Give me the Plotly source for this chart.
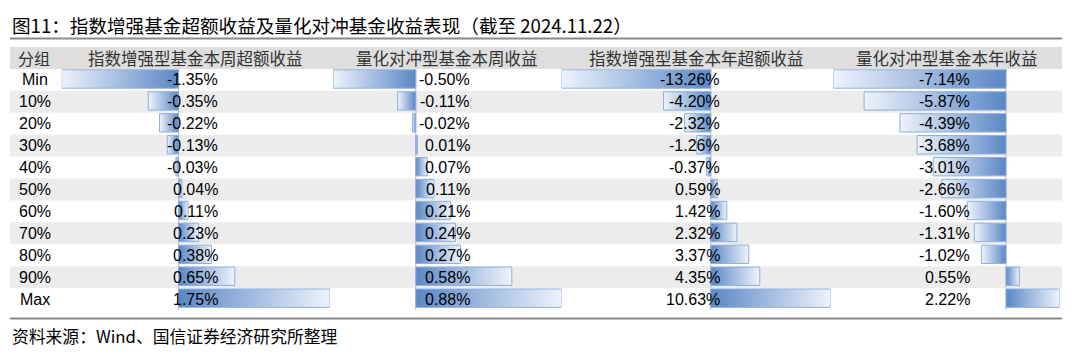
import plotly.graph_objects as go

# ---------------- data ----------------
groups = ["Min", "10%", "20%", "30%", "40%", "50%", "60%", "70%", "80%", "90%", "Max"]
headers = ["指数增强型基金本周超额收益", "量化对冲型基金本周收益",
           "指数增强型基金本年超额收益", "量化对冲型基金本年收益"]
enh_week = [-1.35, -0.35, -0.22, -0.13, -0.03, 0.04, 0.11, 0.23, 0.38, 0.65, 1.75]
hedge_week = [-0.50, -0.11, -0.02, 0.01, 0.07, 0.11, 0.21, 0.24, 0.27, 0.58, 0.88]
enh_year = [-13.26, -4.20, -2.32, -1.26, -0.37, 0.59, 1.42, 2.32, 3.37, 4.35, 10.63]
hedge_year = [-7.14, -5.87, -4.39, -3.68, -3.01, -2.66, -1.60, -1.31, -1.02, 0.55, 2.22]
series = [enh_week, hedge_week, enh_year, hedge_year]

title = "图11：指数增强基金超额收益及量化对冲基金收益表现（截至 2024.11.22）"
source = "资料来源：Wind、国信证券经济研究所整理"

# ---------------- layout constants ----------------
OFF = 8                     # page body margin offset
W, H = 1080 - OFF, 356 - OFF
col_px = [(61.7, 330.0), (333.0, 561.5), (561.5, 830.5), (833.4, 1059.7)]  # bar area per column (page px)
val_right_px = [220, 472, 722, 972]   # right edge of value labels
table_left, table_right = 10, 1062
top_px, bot_px = 47, 310              # header top / last row bottom

DARK = "#5a87c6"
LIGHT = "#eef3fb"
BORDER = "#8fb0de"
HEADER_BG = "#dedede"
ALT_BG = "#ececec"
LINE_C = "#8a8a8a"

CJK = "Noto Sans CJK SC"
LAT = "Liberation Sans, Arial"


def px_x(p):
    return (p - OFF) / W


def px_y(p):
    return (H - (p - OFF)) / H


fig = go.Figure()

n = len(groups)
h = 0.42
axis_names = ["x", "x2", "x3", "x4"]

for c, vals in enumerate(series):
    xa = axis_names[c]
    for i, v in enumerate(vals):
        if v < 0:
            cs = [[0, LIGHT], [1, DARK]]
        else:
            cs = [[0, DARK], [1, LIGHT]]
        fig.add_trace(go.Scatter(
            x=[0, v, v, 0, 0],
            y=[i - h - 0.04, i - h - 0.04, i + h - 0.04, i + h - 0.04, i - h - 0.04],
            xaxis=xa, yaxis="y",
            mode="lines", fill="toself",
            fillgradient=dict(type="horizontal", colorscale=cs),
            line=dict(color=BORDER, width=1),
            hoverinfo="skip", showlegend=False,
        ))

shapes = []
# header + alternating row backgrounds
shapes.append(dict(type="rect", xref="paper", yref="y", x0=px_x(table_left), x1=px_x(table_right),
                   y0=-1.5, y1=-0.5, fillcolor=HEADER_BG, line=dict(width=0), layer="below"))
for i in range(n):
    if i % 2 == 1:
        shapes.append(dict(type="rect", xref="paper", yref="y", x0=px_x(table_left), x1=px_x(table_right),
                           y0=i - 0.5, y1=i + 0.5, fillcolor=ALT_BG, line=dict(width=0), layer="below"))
# zero axis lines
for c in range(4):
    shapes.append(dict(type="line", xref=axis_names[c], yref="y", x0=0, x1=0, y0=-0.5, y1=n - 0.5,
                       line=dict(color="#bdbdbd", width=1), layer="below"))
# top and bottom rules
shapes.append(dict(type="line", xref="paper", yref="paper", x0=px_x(table_left), x1=px_x(table_right),
                   y0=px_y(38.5), y1=px_y(38.5), line=dict(color=LINE_C, width=2)))
shapes.append(dict(type="line", xref="paper", yref="paper", x0=px_x(table_left), x1=px_x(table_right),
                   y0=px_y(318.5), y1=px_y(318.5), line=dict(color=LINE_C, width=2)))

ann = []
ann.append(dict(text=title, xref="paper", yref="paper", x=px_x(table_left), y=px_y(24),
                xanchor="left", yanchor="middle", showarrow=False,
                font=dict(family=CJK, size=18.6, color="#000000")))
ann.append(dict(text=source, xref="paper", yref="paper", x=px_x(table_left), y=px_y(336),
                xanchor="left", yanchor="middle", showarrow=False,
                font=dict(family=CJK, size=16.8, color="#000000")))
# header texts
ann.append(dict(text="分组", xref="paper", yref="y", x=px_x(34), y=-1,
                xanchor="center", yanchor="middle", showarrow=False,
                font=dict(family=CJK, size=16, color="#333333")))
for c, hd in enumerate(headers):
    cx = (col_px[c][0] + col_px[c][1]) / 2
    ann.append(dict(text=hd, xref="paper", yref="y", x=px_x(cx), y=-1,
                    xanchor="center", yanchor="middle", showarrow=False,
                    font=dict(family=CJK, size=16.5, color="#333333")))
# group labels
for i, g in enumerate(groups):
    ann.append(dict(text=g, xref="paper", yref="y", x=px_x(35), y=i,
                    xanchor="center", yanchor="middle", showarrow=False,
                    font=dict(family=LAT, size=16, color="#000000")))
# value labels
for c, vals in enumerate(series):
    for i, v in enumerate(vals):
        ann.append(dict(text=f"{v:.2f}%", xref="paper", yref="y", x=px_x(val_right_px[c]), y=i,
                        xanchor="right", yanchor="middle", showarrow=False,
                        font=dict(family=LAT, size=16, color="#000000")))

layout = dict(
    width=W, height=H,
    margin=dict(l=0, r=0, t=0, b=0),
    paper_bgcolor="white", plot_bgcolor="white",
    showlegend=False,
    shapes=shapes, annotations=ann,
    yaxis=dict(range=[n - 0.5, -1.5], domain=[px_y(bot_px), px_y(top_px)], visible=False, fixedrange=True),
)
for c, vals in enumerate(series):
    key = "xaxis" if c == 0 else f"xaxis{c + 1}"
    layout[key] = dict(range=[min(vals), max(vals)], domain=[px_x(col_px[c][0]), px_x(col_px[c][1])],
                       visible=False, anchor="y", fixedrange=True)

fig.update_layout(**layout)
fig.write_html("out.html")
